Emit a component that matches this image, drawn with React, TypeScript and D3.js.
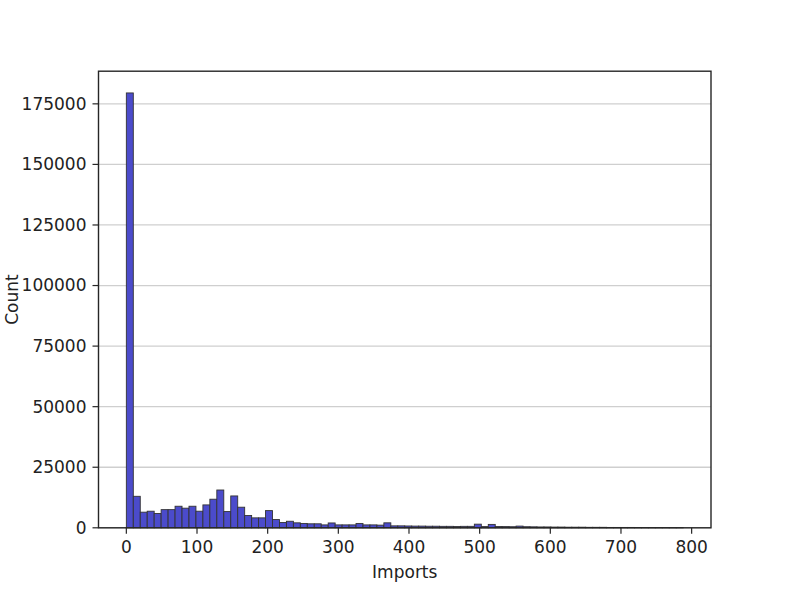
import React from "react";
import * as d3 from "d3";

const binCounts: number[] = [
  179500, 13000, 6450, 6850, 5900, 7500, 7500, 8900, 8100, 8900,
  6850, 9450, 11800, 15600, 6700, 13150, 8500, 5070, 4100, 4100,
  7100, 3400, 2200, 2700, 2050, 1800, 1650, 1650, 1200, 2000,
  1200, 1200, 1200, 1800, 1200, 1200, 1100, 2050, 800, 800,
  750, 700, 700, 650, 650, 600, 600, 550, 600, 600,
  1500, 500, 1400, 550, 500, 450, 700, 450, 400, 350,
  350, 300, 300, 250, 250, 250, 200, 200, 200, 150,
  150, 150, 150, 120, 100, 100, 100, 100, 80, 60,
];
const dataMin = 0;
const dataMax = 788;
const xTicks: number[] = [0, 100, 200, 300, 400, 500, 600, 700, 800];
const yTicks: number[] = [0, 25000, 50000, 75000, 100000, 125000, 150000, 175000];
const xLabel = "Imports";
const yLabel = "Count";

export default function App() {
  const W = 789, H = 593;
  const left = 98.5, right = 711, top = 71.2, bottom = 527.8;
  const span = dataMax - dataMin;
  const x = d3.scaleLinear().domain([dataMin - 0.05 * span, dataMax + 0.05 * span]).range([left, right]);
  const yMax = d3.max(binCounts)! * 1.05;
  const y = d3.scaleLinear().domain([0, yMax]).range([bottom, top]);
  const bw = span / binCounts.length;
  const font = "DejaVu Sans, sans-serif";
  const fs = 17;
  const tickLen = 6;
  return (
    <svg width={W} height={H} style={{ position: "absolute", left: 0, top: 0, background: "#fff" }}>
      {yTicks.map((t) => (
        <line key={"g" + t} x1={left} x2={right} y1={y(t)} y2={y(t)} stroke="#cfcfcf" strokeWidth={1.3} />
      ))}
      {binCounts.map((c, i) => {
        const x0 = x(dataMin + i * bw);
        const x1 = x(dataMin + (i + 1) * bw);
        return (
          <rect key={i} x={x0} y={y(c)} width={x1 - x0} height={y(0) - y(c)}
            fill="#4b4bcb" stroke="#333" strokeWidth={0.9} />
        );
      })}
      <rect x={left} y={top} width={right - left} height={bottom - top} fill="none" stroke="#262626" strokeWidth={1.4} />
      {xTicks.map((t) => (
        <g key={"x" + t}>
          <line x1={x(t)} x2={x(t)} y1={bottom} y2={bottom + tickLen} stroke="#262626" strokeWidth={1.2} />
          <text x={x(t)} y={bottom + tickLen + 6 + 13} textAnchor="middle" fontFamily={font} fontSize={fs} fill="#222">{t}</text>
        </g>
      ))}
      {yTicks.map((t) => (
        <g key={"y" + t}>
          <line x1={left - tickLen} x2={left} y1={y(t)} y2={y(t)} stroke="#262626" strokeWidth={1.2} />
          <text x={left - tickLen - 6} y={y(t)} dy="0.35em" textAnchor="end" fontFamily={font} fontSize={fs} fill="#222">{t}</text>
        </g>
      ))}
      <text x={(left + right) / 2} y={578} textAnchor="middle" fontFamily={font} fontSize={fs} fill="#222">{xLabel}</text>
      <text transform={`translate(18, ${(top + bottom) / 2}) rotate(-90)`} textAnchor="middle" fontFamily={font} fontSize={fs} fill="#222">{yLabel}</text>
    </svg>
  );
}
